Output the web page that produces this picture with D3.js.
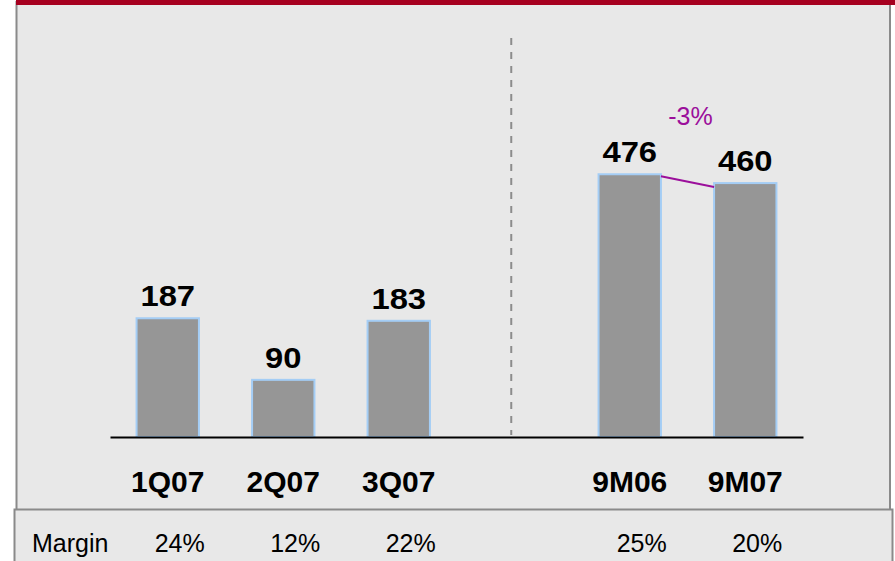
<!DOCTYPE html>
<html>
<head>
<meta charset="utf-8">
<script src="https://cdn.jsdelivr.net/npm/d3@7"></script>
<style>
  body { margin: 0; background: #fff; }
  svg { display: block; font-family: "Liberation Sans", Arial, sans-serif; }
</style>
</head>
<body>
<div id="chart"></div>
<script>

// quarterly figures (left group) and nine-month figures (right group)
const quarters = ['1Q07', '2Q07', '3Q07']
const quarterValues = [187, 90, 183]
const periods = ['9M06', '9M07']
const periodValues = [476, 460]
const margins = ['24%', '12%', '22%', '25%', '20%']
const changeLabel = '-3%'
const marginLabel = 'Margin'

const width = 895
const height = 561
const baseY = 437

const svg = d3.select('#chart').append('svg')
  .attr('width', width)
  .attr('height', height)

// panel + table box
svg.append('rect')
  .attr('x', 16.5).attr('y', 2)
  .attr('width', 873.5).attr('height', 508)
  .attr('fill', '#e8e8e8')
  .attr('stroke', '#8a8a8a')
  .attr('stroke-width', 2)

svg.append('rect')
  .attr('x', 14.5).attr('y', 509.5)
  .attr('width', 878).attr('height', 70)
  .attr('fill', '#e8e8e8')
  .attr('stroke', '#8a8a8a')
  .attr('stroke-width', 2)

svg.append('rect')
  .attr('x', 16).attr('y', 0)
  .attr('width', width - 16).attr('height', 5)
  .attr('fill', '#a6001f')

// one band per column, with an empty slot for the divider
const domain = [...quarters, 'gap', ...periods]
const x = d3.scaleBand()
  .domain(domain)
  .range([110, 803])
  .paddingInner(0.46)
  .paddingOuter(0.23)

// the two groups are drawn on separate scales
const yLeft = d3.scaleLinear().domain([0, 200]).range([baseY, 310])
const yRight = d3.scaleLinear().domain([0, 500]).range([baseY, 161])

const bars = [
  ...quarters.map((c, i) => ({ cat: c, value: quarterValues[i], y: yLeft })),
  ...periods.map((c, i) => ({ cat: c, value: periodValues[i], y: yRight }))
]

const bw = x.bandwidth()
const cx = c => x(c) + bw / 2

// divider
svg.append('line')
  .attr('x1', cx('gap') - 3).attr('x2', cx('gap') - 3)
  .attr('y1', 38).attr('y2', baseY - 2)
  .attr('stroke', '#8c8c8c')
  .attr('stroke-width', 2)
  .attr('stroke-dasharray', '7,7')

svg.append('g').selectAll('rect')
  .data(bars)
  .join('rect')
  .attr('x', d => x(d.cat))
  .attr('y', d => d.y(d.value))
  .attr('width', bw)
  .attr('height', d => baseY - d.y(d.value))
  .attr('fill', '#969696')
  .attr('stroke', '#a4cdf5')
  .attr('stroke-width', 2)

// value labels are a bit wider than plain Arial bold in the original
svg.append('g').selectAll('text')
  .data(bars)
  .join('text')
  .attr('transform', d => `translate(${ cx(d.cat) }, ${ d.y(d.value) - 12 }) scale(1.13, 1)`)
  .attr('text-anchor', 'middle')
  .attr('font-size', 29)
  .attr('font-weight', 'bold')
  .attr('fill', '#000')
  .text(d => d.value)

// x axis
const axis = svg.append('g')
  .attr('class', 'axis x-axis')
  .attr('transform', `translate(0, ${ baseY })`)
  .call(d3.axisBottom(x).tickSize(0).tickSizeOuter(0).tickPadding(34))

axis.select('.domain')
  .attr('stroke', '#000')
  .attr('stroke-width', 2)

axis.selectAll('.tick')
  .filter(d => d === 'gap')
  .remove()

axis.selectAll('.tick text')
  .attr('font-family', '"Liberation Sans", Arial, sans-serif')
  .attr('font-size', 30)
  .attr('font-weight', 'bold')
  .attr('fill', '#000')

// change between the nine-month bars
const a = bars[3]
const b = bars[4]
svg.append('line')
  .attr('x1', x(a.cat) + bw).attr('y1', a.y(a.value) + 2)
  .attr('x2', x(b.cat)).attr('y2', b.y(b.value) + 4)
  .attr('stroke', '#9b0f9b')
  .attr('stroke-width', 2)

svg.append('text')
  .attr('x', (cx(a.cat) + cx(b.cat)) / 2 + 3)
  .attr('y', a.y(a.value) - 49)
  .attr('text-anchor', 'middle')
  .attr('font-size', 25)
  .attr('fill', '#9b0f9b')
  .text(changeLabel)

// margin row
const row = svg.append('g')
  .attr('font-family', '"Liberation Sans", Arial, sans-serif')
  .attr('font-size', 25)
  .attr('fill', '#000')

row.append('text')
  .attr('x', 32).attr('y', 552)
  .text(marginLabel)

row.selectAll('.m')
  .data(bars)
  .join('text')
  .attr('class', 'm')
  .attr('x', d => cx(d.cat) + 12)
  .attr('y', 552)
  .attr('text-anchor', 'middle')
  .text((d, i) => margins[i])

</script>
</body>
</html>
